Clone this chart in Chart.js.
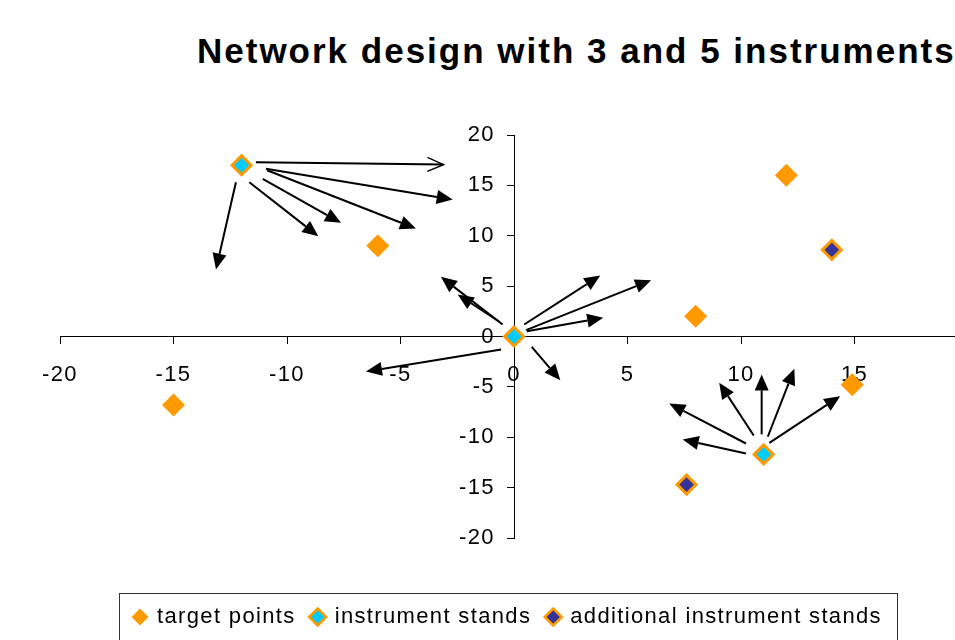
<!DOCTYPE html>
<html lang="en">
<head>
  <meta charset="UTF-8" />
  <title>Network design with 3 and 5 instruments</title>
  <style>
    html, body {
      margin: 0;
      padding: 0;
      width: 955px;
      height: 640px;
      overflow: hidden;
      background: #fff;
      font-family: 'Liberation Sans', Arial, sans-serif;
    }
    .chart-title {
      position: absolute;
      left: 197px;
      top: 33px;
      font-size: 35px;
      line-height: 35px;
      font-weight: bold;
      letter-spacing: 2px;
      white-space: nowrap;
      color: #000;
    }
    #chartCanvas {
      position: absolute;
      left: 0;
      top: 0;
    }
  </style>
  <script src="https://cdn.jsdelivr.net/npm/chart.js"></script>
</head>
<body>
  <div class="chart-title">Network design with 3 and 5 instruments</div>
  <canvas id="chartCanvas" width="1000" height="650"></canvas>
  <script>
    // points
    const targetX = [-15, -6, 8, 12, 14.9];
    const targetY = [-6.8, 9, 2, 16, -4.8];
    const standX = [-12, 0, 11];
    const standY = [17, 0, -11.7];
    const extraX = [14, 7.6];
    const extraY = [8.6, -14.7];

    // tick labels
    const xTickValues = [-20, -15, -10, -5, 0, 5, 10, 15, 20];
    const yTickValues = [-20, -15, -10, -5, 0, 5, 10, 15, 20];

    // arrows (start -> end, in data units)
    const arrowX1 = [-11.37, -10.93, -10.88, -11.07, -11.66, -12.25, -0.50, -0.66, 0.45, 0.53, 0.57, 0.78, -0.57, 10.22, 10.22, 10.56, 10.91, 11.18, 11.25];
    const arrowY1 = [17.29, 16.64, 16.50, 15.64, 15.31, 15.31, 1.19, 1.49, 1.19, 0.63, 0.53, -1.02, -1.29, -11.61, -10.62, -9.82, -9.72, -9.95, -10.55];
    const arrowX2 = [-3.11, -2.70, -4.32, -7.62, -8.62, -13.13, -3.22, -2.48, 3.80, 6.04, 3.93, 2.04, -6.52, 7.43, 6.84, 9.04, 10.91, 12.35, 14.37];
    const arrowY2 = [17.06, 13.59, 10.71, 11.28, 9.95, 6.65, 5.92, 4.17, 6.05, 5.59, 1.86, -4.34, -3.47, -10.22, -6.65, -4.59, -3.77, -3.20, -5.92];
    const arrowHead = ['open', 'filled', 'filled', 'filled', 'filled', 'filled', 'filled', 'filled', 'filled', 'filled',
                       'filled', 'filled', 'filled', 'filled', 'filled', 'filled', 'filled', 'filled', 'filled'];

    const ORANGE = '#FF9900';
    const CYAN = '#00CCFF';
    const NAVY = '#333399';

    function toPoints(xs, ys) {
      return xs.map((x, i) => ({ x: x, y: ys[i] }));
    }

    const spacingPlugin = {
      id: 'spacing',
      beforeLayout(chart) { chart.ctx.letterSpacing = '1.35px'; },
      beforeDraw(chart) { chart.ctx.letterSpacing = '1.35px'; }
    };

    const arrowPlugin = {
      id: 'arrows',
      afterDatasetsDraw(chart) {
        const ctx = chart.ctx;
        const xs = chart.scales.x, ys = chart.scales.y;
        ctx.save();
        ctx.strokeStyle = '#000';
        ctx.fillStyle = '#000';
        ctx.lineWidth = 2;
        for (let i = 0; i < arrowX1.length; i++) {
          const x1 = xs.getPixelForValue(arrowX1[i]);
          const y1 = ys.getPixelForValue(arrowY1[i]);
          const x2 = xs.getPixelForValue(arrowX2[i]);
          const y2 = ys.getPixelForValue(arrowY2[i]);
          const ang = Math.atan2(y2 - y1, x2 - x1);
          const len = 16, half = 7;
          const bx = x2 - Math.cos(ang) * len;
          const by = y2 - Math.sin(ang) * len;
          const nx = -Math.sin(ang), ny = Math.cos(ang);
          ctx.beginPath();
          ctx.moveTo(x1, y1);
          if (arrowHead[i] === 'open') ctx.lineTo(x2, y2);
          else ctx.lineTo(bx, by);
          ctx.stroke();
          ctx.beginPath();
          ctx.moveTo(bx + nx * half, by + ny * half);
          ctx.lineTo(x2, y2);
          ctx.lineTo(bx - nx * half, by - ny * half);
          if (arrowHead[i] === 'open') {
            ctx.lineWidth = 1.5;
            ctx.stroke();
            ctx.lineWidth = 2;
          } else {
            ctx.closePath();
            ctx.fill();
          }
        }
        ctx.restore();
      }
    };

    const legendBoxPlugin = {
      id: 'legendBox',
      afterDraw(chart) {
        const boxes = chart.legend && chart.legend.legendHitBoxes;
        if (!boxes || !boxes.length) return;
        const first = boxes[0], last = boxes[boxes.length - 1];
        const cy = first.top + first.height / 2;
        const left = Math.round(first.left - 15);
        const right = Math.round(last.left + last.width + 15);
        const ctx = chart.ctx;
        ctx.save();
        ctx.strokeStyle = '#333';
        ctx.lineWidth = 1;
        ctx.strokeRect(left + 0.5, Math.round(cy - 24) + 0.5, right - left, 50);
        ctx.restore();
      }
    };

    const tickFont = { family: "'Liberation Sans', Arial, sans-serif", size: 22 };

    new Chart(document.getElementById('chartCanvas'), {
      type: 'scatter',
      data: {
        datasets: [
          {
            label: 'target points',
            data: toPoints(targetX, targetY),
            pointStyle: 'rectRot',
            pointRadius: 11.5,
            backgroundColor: ORANGE,
            borderColor: ORANGE,
            borderWidth: 0
          },
          {
            label: 'instrument stands',
            data: toPoints(standX, standY),
            pointStyle: 'rectRot',
            pointRadius: 9.5,
            backgroundColor: CYAN,
            borderColor: ORANGE,
            borderWidth: 3
          },
          {
            label: 'additional instrument stands',
            data: toPoints(extraX, extraY),
            pointStyle: 'rectRot',
            pointRadius: 9.5,
            backgroundColor: NAVY,
            borderColor: ORANGE,
            borderWidth: 3
          }
        ]
      },
      options: {
        responsive: false,
        animation: false,
        layout: { padding: { left: 48, right: 32, top: 135, bottom: 12 } },
        scales: {
          x: {
            type: 'linear',
            position: { y: 0 },
            min: -20,
            max: 20,
            afterBuildTicks: s => { s.ticks = xTickValues.map(v => ({ value: v })); },
            afterFit: s => { s.height = 0; },
            grid: { drawOnChartArea: false, drawTicks: true, tickLength: 7, color: '#000' },
            border: { display: true, color: '#000', width: 1 },
            ticks: { padding: 18, color: '#000', font: tickFont, maxRotation: 0, autoSkip: false }
          },
          y: {
            type: 'linear',
            position: { x: 0 },
            min: -20,
            max: 20,
            afterBuildTicks: s => { s.ticks = yTickValues.map(v => ({ value: v })); },
            afterFit: s => { s.width = 0; },
            grid: { drawOnChartArea: false, drawTicks: true, tickLength: 7, color: '#000' },
            border: { display: true, color: '#000', width: 1 },
            ticks: { display: false }
          },
          // carries the y tick labels, set a little left of the y axis line
          yLabels: {
            type: 'linear',
            position: { x: -0.84 },
            min: -20,
            max: 20,
            afterBuildTicks: s => { s.ticks = yTickValues.map(v => ({ value: v })); },
            afterFit: s => { s.width = 0; },
            grid: { display: false },
            border: { display: false },
            ticks: { color: '#000', font: tickFont, autoSkip: false }
          },
          // empty left box so the legend centres like the original
          ySpacer: {
            type: 'linear',
            position: 'left',
            min: -20,
            max: 20,
            afterFit: s => { s.width = 12; },
            grid: { display: false },
            border: { display: false },
            ticks: { display: false }
          }
        },
        plugins: {
          tooltip: { enabled: false },
          legend: {
            position: 'bottom',
            title: { display: true, text: '', padding: { top: 40, bottom: 0 }, font: { size: 10 } },
            labels: {
              usePointStyle: true,
              pointStyle: 'rectRot',
              boxWidth: 12,
              boxHeight: 12,
              padding: 16,
              color: '#000',
              font: tickFont,
              generateLabels(chart) {
                const items = Chart.defaults.plugins.legend.labels.generateLabels(chart);
                items.forEach(it => { if (it.lineWidth) it.lineWidth = 2.5; });
                return items;
              }
            }
          }
        }
      },
      plugins: [spacingPlugin, arrowPlugin, legendBoxPlugin]
    });
  </script>
</body>
</html>
